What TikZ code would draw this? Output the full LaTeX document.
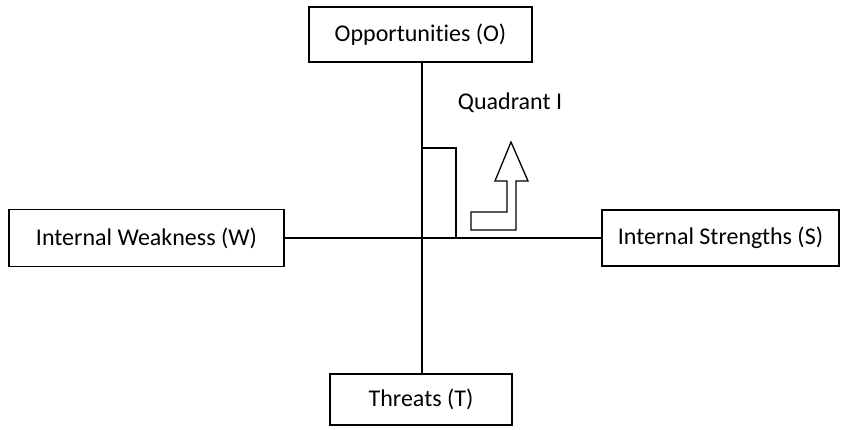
\documentclass[tikz,border=0pt]{standalone}
\usepackage{fontspec}
\setmainfont[Ligatures=NoCommon]{Carlito}
\begin{document}
\begin{tikzpicture}[x=1pt,y=-1pt,
  box/.style={draw,line width=1.3pt,inner sep=0pt,font=\fontsize{24}{28}\selectfont},
  ln/.style={line width=1.3pt}]
\useasboundingbox (0,0) rectangle (848,429);
\node[box,minimum width=223,minimum height=55] (O) at (420.5,34.5) {Opportunities (O)};
\node[box,minimum width=275,minimum height=57] (W) at (146.5,238) {Internal Weakness (W)};
\node[box,minimum width=237,minimum height=56] (S) at (720.5,238) {Internal Strengths (S)};
\node[box,minimum width=182,minimum height=51] (T) at (421,399.5) {Threats (T)};
\node[font=\fontsize{24}{28}\selectfont,inner sep=0pt] (Q) at (510,103) {Quadrant I};
\coordinate (top) at (422,62);
\coordinate (bot) at (422,374);
\draw[ln] (top) -- (bot);
\draw[ln] (W.east) -- (S.west);
\coordinate (b1) at (422,148);
\coordinate (b2) at (456,148);
\coordinate (b3) at (456,238);
\draw[ln] (b1) -- (b2) -- (b3);
\draw[ln,line join=miter] (471,212) -- (507,212) -- (507,181) -- (495,181) -- (511,142) -- (528,181) -- (516,181) -- (516,230) -- (471,230) -- cycle;
\end{tikzpicture}
\end{document}
